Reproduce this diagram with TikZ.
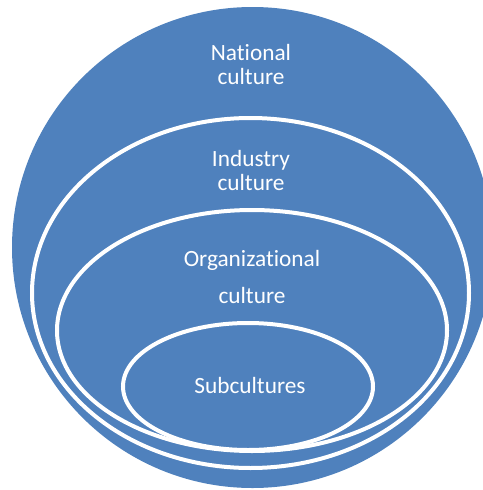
\documentclass[tikz,border=0pt]{standalone}
\usepackage{fontspec}
\setmainfont{Carlito}[Ligatures={NoCommon}]
\definecolor{ringblue}{HTML}{4F81BD}
\tikzset{
	ring/.style={draw=white, line width=4pt, fill=ringblue},
	ringtext/.style={text=white, align=center, inner sep=0pt, font=\fontsize{23.3}{23.5}\selectfont}
}
\newcommand{\ring}[4] % x, y, x radius, y radius, in pt
{
	\draw[ring] (#1,#2) ellipse [x radius=#3pt, y radius=#4pt];
}

\begin{document}
\begin{tikzpicture}[x=1pt, y=-1pt]
	% 482 x 490, y runs downwards
	\useasboundingbox (0,0) rectangle (482,490);
	\fill[ringblue] (252.5,247.5) circle (240.5pt);
	
	\ring{250.5}{293}{218.5}{175};
	\ring{252}{330.5}{195}{120.5};
	\ring{248}{386.5}{125}{63.5};
	
	\node[ringtext] (national) at (251,64.5) {National\\culture};
	\node[ringtext] (industry) at (251,170.3) {Industry\\culture};
	\node[ringtext] (organizational) at (252,277) {Organizational\\[13pt]culture};
	\node[ringtext, anchor=base] (subcultures) at (250,393) {Subcultures};
\end{tikzpicture}
\end{document}
